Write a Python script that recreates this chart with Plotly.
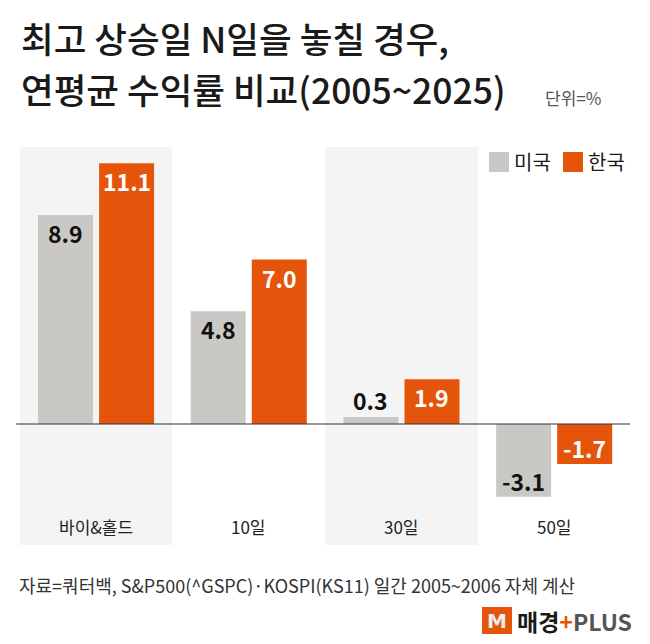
import plotly.graph_objects as go

categories = ["바이&홀드", "10일", "30일", "50일"]
us_values = [8.9, 4.8, 0.3, -3.1]
kr_values = [11.1, 7.0, 1.9, -1.7]
series_names = ["미국", "한국"]

GRAY = "#cac8c5"
ORANGE = "#e4540b"
PANEL = "#f4f4f4"
KFONT = "Noto Sans CJK KR"
W, H = 650, 644


def px(x):
    return x / W


def py(y):
    return 1 - y / H


fig = go.Figure()
fig.add_trace(go.Bar(x=categories, y=us_values, name=series_names[0],
                     marker=dict(color=GRAY, line=dict(width=0))))
fig.add_trace(go.Bar(x=categories, y=kr_values, name=series_names[1],
                     marker=dict(color=ORANGE, line=dict(width=0))))

# shaded panels behind 1st and 3rd group
for i in (0, 2):
    fig.add_shape(type="rect", xref="x", yref="y domain",
                  x0=i - 0.5, x1=i + 0.5, y0=0, y1=1,
                  fillcolor=PANEL, line=dict(width=0), layer="below")

# zero line
fig.add_shape(type="line", xref="paper", yref="y", x0=px(16), x1=px(630), y0=0, y1=0,
              line=dict(color="#333333", width=1.2))

# value labels
annos = []
for vals, shift, col_in in ((us_values, -30.5, "#111111"), (kr_values, 30.5, "white")):
    for c, v in zip(categories, vals):
        inside = abs(v) > 1
        if v >= 0:
            ys = -18 if inside else 17
        else:
            ys = 16
        annos.append(dict(x=c, y=v, xref="x", yref="y", xshift=shift, yshift=ys,
                          xanchor="center", yanchor="middle",
                          text=f"<b>{v:.1f}</b>", showarrow=False,
                          font=dict(family=KFONT, size=23,
                                    color=col_in if inside else "#111111")))

# category labels
for c in categories:
    annos.append(dict(x=c, y=-4.35, xref="x", yref="y", text=c, showarrow=False,
                      xanchor="center", yanchor="middle",
                      font=dict(family=KFONT, size=17, color="#222222")))

# title and unit
for txt, yy in (("최고 상승일 N일을 놓칠 경우,", 38), ("연평균 수익률 비교(2005~2025)", 88)):
    annos.append(dict(x=px(19), y=py(yy), xref="paper", yref="paper",
                      xanchor="left", yanchor="middle", showarrow=False, text=txt,
                      font=dict(family=KFONT, size=35.5, color="#1a1a1a", weight=500)))
annos.append(dict(x=px(543), y=py(97), xref="paper", yref="paper",
                  xanchor="left", yanchor="middle", showarrow=False, text="단위=%",
                  font=dict(family=KFONT, size=17, color="#555555")))

# legend
for x0, col, name in ((489, GRAY, series_names[0]), (563, ORANGE, series_names[1])):
    fig.add_shape(type="rect", xref="paper", yref="paper",
                  x0=px(x0), x1=px(x0 + 20), y0=py(172), y1=py(152),
                  fillcolor=col, line=dict(width=0))
    annos.append(dict(x=px(x0 + 23), y=py(162), xref="paper", yref="paper",
                      xanchor="left", yanchor="middle", showarrow=False, text=name,
                      font=dict(family=KFONT, size=20, color="#1a1a1a")))

# source
annos.append(dict(x=px(17), y=py(585), xref="paper", yref="paper",
                  xanchor="left", yanchor="middle", showarrow=False,
                  text="자료=쿼터백, S&P500(^GSPC)·KOSPI(KS11) 일간 2005~2006 자체 계산",
                  font=dict(family=KFONT, size=18, color="#333333")))

# logo
fig.add_shape(type="rect", xref="paper", yref="paper",
              x0=px(483), x1=px(511), y0=py(633), y1=py(608),
              fillcolor=ORANGE, line=dict(color=ORANGE, width=2))
annos.append(dict(x=px(497), y=py(621), xref="paper", yref="paper",
                  xanchor="center", yanchor="middle", showarrow=False, text="<b>M</b>",
                  font=dict(family="DejaVu Sans", size=20, color="#eeeeee")))
annos.append(dict(x=px(515), y=py(621), xref="paper", yref="paper",
                  xanchor="left", yanchor="middle", showarrow=False,
                  text="<b>매경</b><b><span style='color:#e4540b'>+</span>"
                       "<span style='color:#555555'>PLUS</span></b>",
                  font=dict(family=KFONT, size=23, color="#1a1a1a")))

fig.update_layout(
    width=W, height=H,
    margin=dict(l=0, r=0, t=0, b=0),
    paper_bgcolor="white", plot_bgcolor="white",
    barmode="group", bargap=0.2, bargroupgap=0.1,
    showlegend=False,
    hovermode=False,
    annotations=annos,
    xaxis=dict(domain=[px(19.7), px(630.5)], showticklabels=False,
               showgrid=False, zeroline=False, fixedrange=True),
    yaxis=dict(domain=[py(545), py(147)], range=[-5.15, 11.79],
               showticklabels=False, showgrid=False, zeroline=False, fixedrange=True),
)

fig.write_html("out.html", config={"displayModeBar": False},
               post_script="document.body.style.margin='0';")
